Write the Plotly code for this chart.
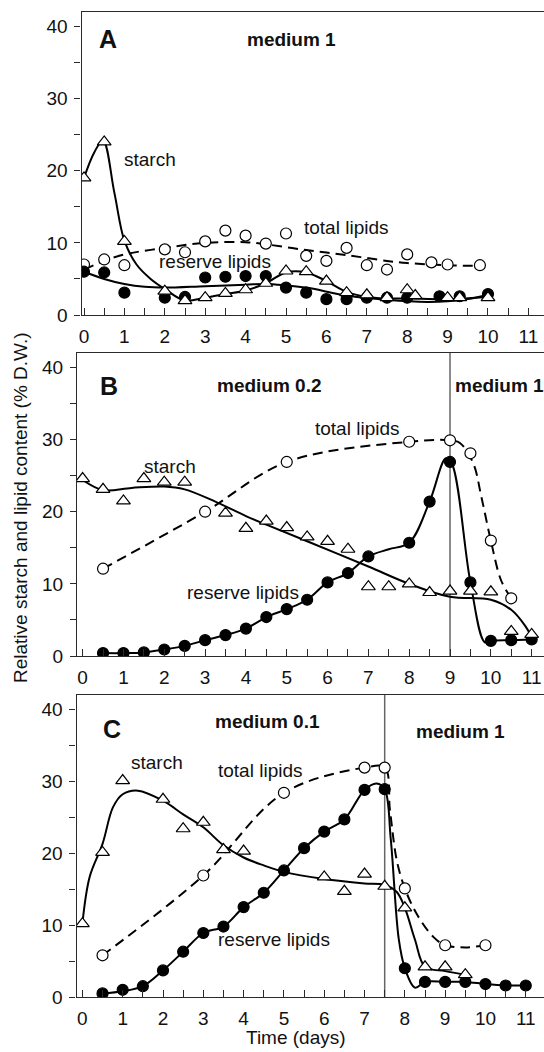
import plotly.graph_objects as go

W, H = 544, 1052
FONT = "Liberation Sans, Arial, Helvetica, sans-serif"

# ---------------- Panel A (medium 1) ----------------
A_days_starch = [0, 0.5, 1, 2, 2.5, 3, 3.5, 4, 4.5, 5, 5.5, 6, 6.5, 7, 7.5, 8, 8.2, 9, 9.3, 10]
A_starch = [19.0, 24.0, 10.2, 3.3, 2.0, 2.4, 3.0, 3.5, 4.4, 6.1, 6.0, 4.7, 3.1, 2.8, 2.4, 3.5, 2.7, 2.4, 2.4, 2.4]
A_days_total = [0, 0.5, 1, 2, 2.5, 3, 3.5, 4, 4.5, 5, 5.5, 6, 6.5, 7, 7.5, 8, 8.6, 9, 9.8]
A_total = [7.0, 7.7, 6.9, 9.1, 8.7, 10.2, 11.7, 11.0, 9.9, 11.3, 8.2, 7.5, 9.3, 6.9, 6.3, 8.4, 7.3, 7.0, 6.9]
A_days_reserve = [0, 0.5, 1, 2, 2.5, 3, 3.5, 4, 4.5, 5, 5.5, 6, 6.5, 7, 7.5, 8, 8.8, 9.3, 10]
A_reserve = [6.0, 5.9, 3.1, 2.4, 2.5, 5.2, 5.3, 5.4, 5.4, 3.8, 3.1, 2.2, 2.2, 2.4, 2.4, 2.4, 2.6, 2.6, 2.9]
# fitted curves
A_starch_fit_x = [0, 0.25, 0.47, 0.75, 1.0, 1.3, 1.65, 2.0, 2.5, 3, 3.5, 4, 4.5, 5, 5.5, 6, 6.5, 7, 7.5, 8, 9, 10]
A_starch_fit_y = [19.0, 22.5, 24.2, 17.0, 10.3, 7.0, 5.0, 3.6, 2.0, 2.4, 2.9, 3.4, 4.4, 5.9, 5.9, 4.7, 3.2, 2.5, 2.3, 2.3, 2.2, 2.5]
A_reserve_fit_x = [0, 0.5, 1, 1.5, 2, 3, 4, 4.5, 5, 5.5, 6.5, 7.5, 8.5, 9, 9.5, 10]
A_reserve_fit_y = [6.0, 5.0, 4.3, 3.9, 3.8, 4.0, 4.2, 4.3, 4.1, 3.8, 2.7, 2.1, 1.8, 1.9, 2.2, 2.8]
A_total_fit_x = [0, 0.5, 1, 2, 3, 4, 4.5, 5.5, 6.5, 7.5, 8, 9, 9.8]
A_total_fit_y = [6.3, 7.5, 8.4, 9.3, 10.0, 10.1, 9.8, 9.0, 8.3, 7.5, 7.2, 6.9, 6.8]

# ---------------- Panel B (medium 0.2 -> medium 1) ----------------
B_days_starch = [0, 0.5, 1, 1.5, 2, 2.5, 3.5, 4, 4.5, 5, 5.5, 6, 6.5, 7, 7.5, 8, 8.5, 9, 9.5, 10, 10.5, 11]
B_starch = [24.6, 23.1, 21.5, 24.6, 24.1, 24.1, 19.8, 17.7, 18.7, 17.8, 16.5, 15.9, 14.8, 9.6, 9.6, 10.0, 8.8, 9.0, 9.0, 8.9, 3.4, 3.0]
B_days_total = [0.5, 3, 5, 8, 9, 9.5, 10, 10.5]
B_total = [12.1, 20.0, 26.9, 29.7, 29.9, 28.1, 16.0, 8.0]
B_days_reserve = [0.5, 1, 1.5, 2, 2.5, 3, 3.5, 4, 4.5, 5, 5.5, 6, 6.5, 7, 8, 8.5, 9, 9.5, 10, 10.5, 11]
B_reserve = [0.4, 0.4, 0.5, 0.9, 1.4, 2.2, 2.9, 3.8, 5.4, 6.5, 7.8, 10.2, 11.5, 13.8, 15.7, 21.4, 26.9, 10.2, 2.1, 2.2, 2.3]
B_starch_fit_x = [0, 0.5, 1.2, 2.0, 2.5, 3.25, 4.0, 4.5, 5.5, 7.0, 8.0, 9.0, 10.0, 10.5, 10.85, 11.0]
B_starch_fit_y = [24.4, 23.0, 23.3, 23.5, 23.1, 21.4, 19.4, 18.2, 15.9, 12.4, 10.0, 8.2, 7.8, 6.4, 4.1, 2.6]
B_total_fit_x = [0.5, 3, 5, 8, 9, 9.25, 9.57, 9.77, 10, 10.25, 10.5]
B_total_fit_y = [12.1, 20.0, 26.9, 29.7, 29.9, 29.5, 26.7, 22.0, 16.0, 10.5, 8.0]
B_reserve_fit_x = [0.5, 1, 1.5, 2, 2.5, 3, 3.5, 4, 4.5, 5, 5.5, 6, 6.5, 7, 7.5, 8, 8.5, 8.9, 9.05, 9.5, 9.85, 10, 10.5, 11]
B_reserve_fit_y = [0.4, 0.4, 0.5, 0.9, 1.4, 2.2, 2.9, 3.8, 5.4, 6.5, 7.8, 10.2, 11.5, 13.8, 14.8, 15.7, 21.4, 27.4, 26.6, 10.2, 1.9, 2.1, 2.2, 2.3]

# ---------------- Panel C (medium 0.1 -> medium 1) ----------------
C_days_starch = [0, 0.5, 1, 2, 2.5, 3, 3.5, 4, 6, 6.5, 7, 7.5, 8, 8.5, 9, 9.5]
C_starch = [10.2, 20.1, 30.1, 27.5, 23.4, 24.3, 20.5, 20.3, 16.7, 14.7, 17.1, 15.4, 12.4, 4.2, 4.2, 3.1]
C_days_total = [0.5, 3, 5, 7, 7.5, 8, 9, 10]
C_total = [5.8, 16.9, 28.4, 31.9, 31.9, 15.1, 7.2, 7.2]
C_days_reserve = [0.5, 1, 1.5, 2, 2.5, 3, 3.5, 4, 4.5, 5, 5.5, 6, 6.5, 7, 7.5, 8, 8.5, 9, 9.5, 10, 10.5, 11]
C_reserve = [0.5, 1.0, 1.5, 3.7, 6.3, 8.9, 9.8, 12.5, 14.5, 17.6, 20.7, 23.0, 24.7, 28.8, 28.9, 4.0, 2.1, 2.1, 2.1, 1.8, 1.6, 1.6]
C_starch_fit_x = [0, 0.18, 0.5, 0.76, 1.0, 1.38, 2.0, 2.5, 3.0, 3.5, 4.0, 4.5, 5.0, 6.0, 7.0, 7.5, 7.8, 8.0, 8.25, 8.5, 9.0, 9.5]
C_starch_fit_y = [10.2, 16.7, 21.3, 26.4, 28.2, 28.7, 27.3, 25.4, 23.6, 21.1, 19.4, 18.3, 17.4, 16.4, 15.8, 15.6, 14.6, 12.4, 8.0, 4.2, 3.6, 3.1]
C_total_fit_x = [0.5, 3, 5, 7, 7.5, 7.63, 7.8, 8.0, 8.3, 8.7, 9, 9.5, 10]
C_total_fit_y = [5.8, 16.9, 28.4, 31.9, 31.9, 26.0, 19.0, 15.1, 11.5, 8.4, 7.2, 6.9, 7.2]
C_reserve_fit_x = [0.5, 1, 1.5, 2, 2.5, 3, 3.5, 4, 4.5, 5, 5.5, 6, 6.5, 7, 7.3, 7.5, 7.65, 7.85, 8.0, 8.25, 8.5, 9, 9.5, 10, 10.5, 11]
C_reserve_fit_y = [0.5, 0.8, 1.5, 3.7, 6.3, 8.9, 9.8, 12.5, 14.5, 17.6, 20.7, 23.0, 24.7, 28.8, 29.7, 28.9, 22.0, 8.0, 4.0, 1.3, 2.1, 2.1, 2.1, 1.8, 1.6, 1.6]

x_ticks = [0, 1, 2, 3, 4, 5, 6, 7, 8, 9, 10, 11]
y_ticks = [0, 10, 20, 30, 40]

panels = [
    dict(xa="x", ya="y",
         fits=[(A_starch_fit_x, A_starch_fit_y, "solid"),
               (A_reserve_fit_x, A_reserve_fit_y, "solid"),
               (A_total_fit_x, A_total_fit_y, "dash")],
         pts=[(A_days_total, A_total, "circle", "white"),
              (A_days_reserve, A_reserve, "circle", "black"),
              (A_days_starch, A_starch, "triangle-up", "white")]),
    dict(xa="x2", ya="y2",
         fits=[(B_starch_fit_x, B_starch_fit_y, "solid"),
               (B_reserve_fit_x, B_reserve_fit_y, "solid"),
               (B_total_fit_x, B_total_fit_y, "dash")],
         pts=[(B_days_total, B_total, "circle", "white"),
              (B_days_reserve, B_reserve, "circle", "black"),
              (B_days_starch, B_starch, "triangle-up", "white")]),
    dict(xa="x3", ya="y3",
         fits=[(C_starch_fit_x, C_starch_fit_y, "solid"),
               (C_reserve_fit_x, C_reserve_fit_y, "solid"),
               (C_total_fit_x, C_total_fit_y, "dash")],
         pts=[(C_days_total, C_total, "circle", "white"),
              (C_days_reserve, C_reserve, "circle", "black"),
              (C_days_starch, C_starch, "triangle-up", "white")]),
]

fig = go.Figure()
for p in panels:
    for fx, fy, dash in p["fits"]:
        fig.add_trace(go.Scatter(
            x=fx, y=fy, mode="lines", xaxis=p["xa"], yaxis=p["ya"],
            line=dict(color="black", width=2, shape="spline", smoothing=1.0,
                      dash="10px,6px" if dash == "dash" else "solid"),
            hoverinfo="skip", showlegend=False))
    for px_, py_, sym, fill in p["pts"]:
        fig.add_trace(go.Scatter(
            x=px_, y=py_, mode="markers", xaxis=p["xa"], yaxis=p["ya"],
            marker=dict(symbol=sym, size=12 if sym == "triangle-up" else 11,
                        color=fill, line=dict(color="black", width=1.2)),
            showlegend=False))


def pxx(v):
    return v / W


def pxy(v):
    return 1 - v / H


AX = "#2a2a2a"
# plot-area pixel geometry: (left, right, top, bottom) and x ranges
geo = [
    (81.5, 543.5, 12, 315, [-0.062, 11.374]),
    (77.0, 543.5, 353, 656, [-0.138, 11.29]),
    (76.5, 543.5, 695, 997, [-0.146, 11.44]),
]
layout = {}
for i, (l, r, t, b, xr) in enumerate(geo):
    sfx = "" if i == 0 else str(i + 1)
    layout["xaxis" + sfx] = dict(
        domain=[pxx(l), pxx(r)], range=xr, anchor="y" + sfx,
        tickmode="array", tickvals=x_ticks, ticks="inside", ticklen=7, tickwidth=1.2,
        tickcolor=AX, minor=dict(dtick=0.5, tick0=0, ticks="inside", ticklen=7, tickwidth=1.2, tickcolor=AX),
        showline=True, linecolor=AX, linewidth=1.3, mirror=True,
        showgrid=False, zeroline=False, automargin=False,
        tickfont=dict(family=FONT, size=19, color="#111"), ticklabelstandoff=4)
    layout["yaxis" + sfx] = dict(
        domain=[pxy(b), pxy(t)], range=[0, 42], anchor="x" + sfx,
        tickmode="array", tickvals=y_ticks, ticks="outside", ticklen=6, tickwidth=1.2,
        tickcolor=AX, minor=dict(dtick=5, tick0=0, ticks="outside", ticklen=6, tickwidth=1.2, tickcolor=AX),
        showline=True, linecolor=AX, linewidth=1.3, mirror=True,
        showgrid=False, zeroline=False, automargin=False,
        tickfont=dict(family=FONT, size=19, color="#111"), ticklabelstandoff=3)


def txt(x, y, s, size=19, bold=False, angle=0):
    return dict(x=pxx(x), y=pxy(y), xref="paper", yref="paper",
                text=("<b>%s</b>" % s) if bold else s, showarrow=False,
                xanchor="center", yanchor="middle", textangle=angle,
                font=dict(family=FONT, size=size, color="#111"))


annotations = [
    txt(107.5, 39, "A", 25, True), txt(291.5, 40, "medium 1", 19, True),
    txt(150, 159, "starch"), txt(346.6, 227.5, "total lipids"), txt(215, 262, "reserve lipids"),
    txt(109, 386, "B", 25, True), txt(269.4, 386, "medium 0.2", 19, True), txt(499.5, 386, "medium 1", 19, True),
    txt(357, 428, "total lipids"), txt(170, 466, "starch"), txt(243, 592.5, "reserve lipids"),
    txt(112, 729, "C", 25, True), txt(267, 721.5, "medium 0.1", 19, True), txt(460, 731.5, "medium 1", 19, True),
    txt(157, 762.5, "starch"), txt(260, 770, "total lipids"), txt(274, 939, "reserve lipids"),
    txt(20, 508, "Relative starch and lipid content (% D.W.)", 19, False, -90),
    txt(296, 1037, "Time (days)", 19),
]

shapes = [
    dict(type="line", xref="x2", yref="y2 domain", x0=9, x1=9, y0=0, y1=1,
         line=dict(color="#666", width=1.5), layer="below"),
    dict(type="line", xref="x3", yref="y3 domain", x0=7.5, x1=7.5, y0=0, y1=1,
         line=dict(color="#666", width=1.5), layer="below"),
]

fig.update_layout(
    width=W, height=H, margin=dict(l=0, r=0, t=0, b=0),
    paper_bgcolor="white", plot_bgcolor="white",
    annotations=annotations, shapes=shapes, showlegend=False,
    font=dict(family=FONT), **layout)

fig.write_html("out.html", config={"displayModeBar": False})
